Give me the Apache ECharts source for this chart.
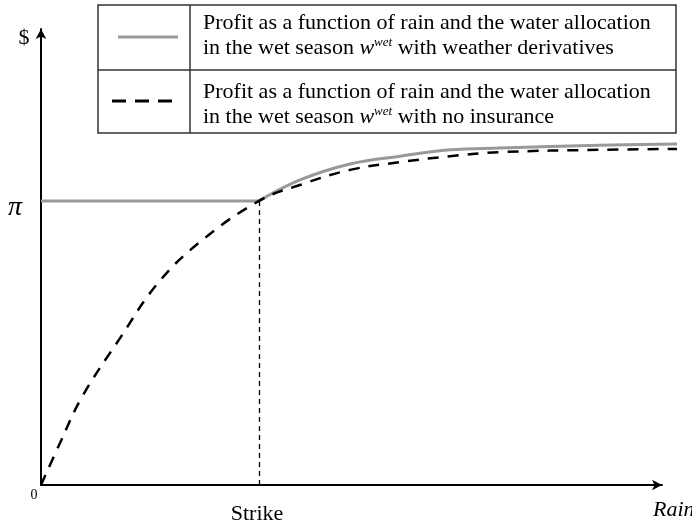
<!DOCTYPE html>
<html>
<head>
<meta charset="utf-8">
<script src="https://cdn.jsdelivr.net/npm/echarts@6/dist/echarts.min.js"></script>
<style>html,body{margin:0;padding:0;background:#fff}#c{width:692px;height:527px}</style>
</head>
<body>
<div id="c"></div>
<script>
// Data (x = rain, y = profit, arbitrary units)
var strikeX = 35.1;
var piY = 62.3;
var noInsX = [0, 3.06, 6.6, 12.72, 18.84, 25.6, 35.1, 41.7, 49.76, 57.8, 65.86, 73.9, 90, 102.4];
var noInsY = [0, 9.2, 19.3, 32.2, 44.3, 53.3, 62.3, 65.8, 69.1, 70.8, 72.1, 73.0, 73.5, 73.7];
var derivX = [0, 35.1, 41.7, 49.76, 57.8, 65.86, 73.9, 90, 102.4];
var derivY = [62.3, 62.3, 66.9, 70.4, 72.1, 73.5, 73.9, 74.5, 74.8];
var legendLines = [
  'Profit as a function of rain and the water allocation',
  'in the wet season {i|w}{sup|wet} with weather derivatives',
  'Profit as a function of rain and the water allocation',
  'in the wet season {i|w}{sup|wet} with no insurance'
];

function zip(xs, ys) { return xs.map(function (x, i) { return [x, ys[i]]; }); }
var derivData = zip(derivX, derivY);
var derivFlat = derivData.slice(0, 2);
var derivCurve = derivData.slice(1);

var serif = '"Liberation Serif", "Times New Roman", serif';
var chart = echarts.init(document.getElementById('c'));
var FS = 22;
var richStyle = {
  i: { fontFamily: serif, fontStyle: 'italic', fontSize: FS, fill: '#000' },
  sup: { fontFamily: serif, fontStyle: 'italic', fontSize: 13, verticalAlign: 'top', padding: [0, 0, 10, 0], fill: '#000' }
};
var hiddenAxis = { show: false };
var arrowLine = { show: true, lineStyle: { color: '#000', width: 2 }, symbol: ['none', 'arrow'], symbolSize: [8, 10] };

chart.setOption({
  animation: false,
  grid: [
    { left: 41, right: 15, top: 29, bottom: 42 },
    { left: 41, right: 30, top: 29, bottom: 42 }
  ],
  xAxis: [
    { gridIndex: 0, type: 'value', min: 0, max: 102.4, show: false },
    { gridIndex: 1, type: 'value', min: 0, max: 100, axisLine: arrowLine, axisTick: { show: false }, axisLabel: { show: false }, splitLine: { show: false } }
  ],
  yAxis: [
    { gridIndex: 0, type: 'value', min: 0, max: 100, show: false },
    { gridIndex: 1, type: 'value', min: 0, max: 100, axisLine: arrowLine, axisTick: { show: false }, axisLabel: { show: false }, splitLine: { show: false } }
  ],
  series: [
    {
      type: 'line', xAxisIndex: 0, yAxisIndex: 0, data: derivFlat, smooth: false,
      showSymbol: false, symbol: 'none',
      lineStyle: { color: '#999999', width: 3 }, z: 3
    },
    {
      type: 'line', xAxisIndex: 0, yAxisIndex: 0, data: derivCurve, smooth: 0.4,
      showSymbol: false, symbol: 'none',
      lineStyle: { color: '#999999', width: 3 }, z: 3
    },
    {
      type: 'line', xAxisIndex: 0, yAxisIndex: 0, data: zip(noInsX, noInsY), smooth: 0.4,
      showSymbol: false, symbol: 'none',
      lineStyle: { color: '#000', width: 2.5, type: [11, 9] }, z: 4,
      markLine: {
        silent: true, symbol: 'none', label: { show: false },
        lineStyle: { color: '#000', width: 1.3, type: [5, 4] },
        data: [[{ coord: [strikeX, 0] }, { coord: [strikeX, piY] }]]
      }
    }
  ],
  graphic: [
    { type: 'rect', shape: { x: 98, y: 5, width: 578, height: 128 }, style: { fill: '#fff', stroke: '#333', lineWidth: 1.5 }, z: 10 },
    { type: 'line', shape: { x1: 190, y1: 5, x2: 190, y2: 133 }, style: { stroke: '#333', lineWidth: 1.5 }, z: 11 },
    { type: 'line', shape: { x1: 98, y1: 70, x2: 676, y2: 70 }, style: { stroke: '#333', lineWidth: 1.5 }, z: 11 },
    { type: 'line', shape: { x1: 118, y1: 37, x2: 178, y2: 37 }, style: { stroke: '#999999', lineWidth: 3 }, z: 11 },
    { type: 'line', shape: { x1: 112, y1: 101, x2: 172, y2: 101 }, style: { stroke: '#000', lineWidth: 3, lineDash: [14, 9] }, z: 11 },
    { type: 'text', x: 203, y: 23, z: 11, style: { text: legendLines[0], font: FS + 'px ' + serif, fill: '#000', verticalAlign: 'middle' } },
    { type: 'text', x: 203, y: 48, z: 11, style: { text: legendLines[1], font: FS + 'px ' + serif, fill: '#000', verticalAlign: 'middle', rich: richStyle } },
    { type: 'text', x: 203, y: 92, z: 11, style: { text: legendLines[2], font: FS + 'px ' + serif, fill: '#000', verticalAlign: 'middle' } },
    { type: 'text', x: 203, y: 117, z: 11, style: { text: legendLines[3], font: FS + 'px ' + serif, fill: '#000', verticalAlign: 'middle', rich: richStyle } },
    { type: 'text', x: 24, y: 38, z: 11, style: { text: '$', font: '22px ' + serif, fill: '#000', align: 'center', verticalAlign: 'middle' } },
    { type: 'text', x: 15, y: 208, z: 11, style: { text: 'π', font: 'italic 28px ' + serif, fill: '#000', align: 'center', verticalAlign: 'middle' } },
    { type: 'text', x: 34, y: 495, z: 11, style: { text: '0', font: '14px ' + serif, fill: '#000', align: 'center', verticalAlign: 'middle' } },
    { type: 'text', x: 257, y: 514, z: 11, style: { text: 'Strike', font: '22px ' + serif, fill: '#000', align: 'center', verticalAlign: 'middle' } },
    { type: 'text', x: 653, y: 510, z: 11, style: { text: 'Rain', font: 'italic 22px ' + serif, fill: '#000', verticalAlign: 'middle' } }
  ]
});
</script>
</body>
</html>
